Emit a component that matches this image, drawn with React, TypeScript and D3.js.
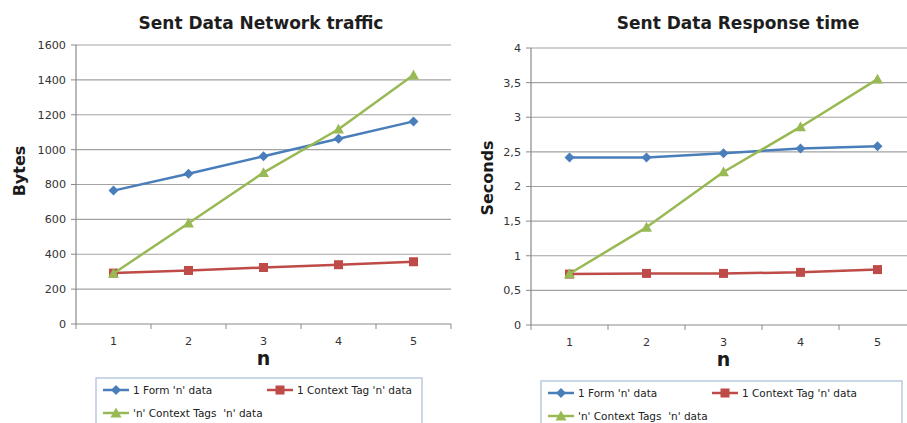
import React from "react";
import * as d3 from "d3";

const categories = ["1", "2", "3", "4", "5"];
const seriesNames = ["1 Form 'n' data", "1 Context Tag 'n' data", "'n' Context Tags  'n' data"];
const seriesColors = ["#4a7ebb", "#be4b48", "#98b954"];

const trafficForm = [765, 862, 962, 1062, 1162];
const trafficTag = [292, 307, 324, 340, 357];
const trafficTags = [290, 578, 868, 1117, 1428];
const trafficTicks = [0, 200, 400, 600, 800, 1000, 1200, 1400, 1600];

const timeForm = [2.42, 2.42, 2.48, 2.55, 2.58];
const timeTag = [0.735, 0.745, 0.745, 0.76, 0.8];
const timeTags = [0.74, 1.41, 2.21, 2.86, 3.55];
const timeTicks = [0, 0.5, 1, 1.5, 2, 2.5, 3, 3.5, 4];

const FONT = "'DejaVu Sans', Verdana, sans-serif";

type ChartProps = {
  title: string;
  yLabel: string;
  series: number[][];
  ticks: number[];
  yMax: number;
  left: number;
  band: number;
  top: number;
  bottom: number;
  titleX: number;
  yLabelX: number;
  yLabelY: number;
  legendX: number;
  legendY: number;
  legendW: number;
  fmt: (v: number) => string;
};

function Marker({ kind, x, y, color }: { kind: number; x: number; y: number; color: string }) {
  if (kind === 0) {
    const s = 5;
    return <path d={`M${x},${y - s}L${x + s},${y}L${x},${y + s}L${x - s},${y}Z`} fill={color} />;
  }
  if (kind === 1) {
    const s = 4.5;
    return <rect x={x - s} y={y - s} width={2 * s} height={2 * s} fill={color} />;
  }
  const s = 5.5;
  return <path d={`M${x},${y - s}L${x + s},${y + s * 0.8}L${x - s},${y + s * 0.8}Z`} fill={color} />;
}

function Chart(p: ChartProps) {
  const x = d3
    .scaleBand<string>()
    .domain(categories)
    .range([p.left, p.left + p.band * categories.length])
    .paddingInner(0)
    .paddingOuter(0);
  const y = d3.scaleLinear().domain([0, p.yMax]).range([p.bottom, p.top]);
  const cx = (c: string) => (x(c) as number) + x.bandwidth() / 2;
  const line = d3
    .line<number>()
    .x((_, i) => cx(categories[i]))
    .y((d) => y(d));
  const right = p.left + p.band * categories.length;
  const boundaries = categories.map((c) => x(c) as number).concat([right]);
  const legendItems = [
    { i: 0, lx: p.legendX + 7, ly: p.legendY + 12 },
    { i: 1, lx: p.legendX + 171, ly: p.legendY + 12 },
    { i: 2, lx: p.legendX + 7, ly: p.legendY + 35 },
  ];
  return (
    <g>
      <text x={p.titleX} y={29} textAnchor="middle" fontFamily={FONT} fontWeight="bold" fontSize={17} fill="#1e1e1e">
        {p.title}
      </text>
      {p.ticks.map((t) => (
        <g key={t}>
          {t > 0 && <line x1={p.left} x2={right} y1={y(t)} y2={y(t)} stroke="#a3a3a3" strokeWidth={1.2} />}
          <line x1={p.left - 5} x2={p.left} y1={y(t)} y2={y(t)} stroke="#8a8a8a" />
          <text x={p.left - 10} y={y(t)} dy="0.35em" textAnchor="end" fontFamily={FONT} fontSize={11.2} fill="#333">
            {p.fmt(t)}
          </text>
        </g>
      ))}
      <line x1={p.left} x2={p.left} y1={p.top} y2={p.bottom} stroke="#8a8a8a" strokeWidth={1.2} />
      <line x1={p.left} x2={right} y1={p.bottom} y2={p.bottom} stroke="#8a8a8a" strokeWidth={1.2} />
      {boundaries.map((b, i) => (
        <line key={i} x1={b} x2={b} y1={p.bottom} y2={p.bottom + 5} stroke="#8a8a8a" />
      ))}
      {categories.map((c) => (
        <text key={c} x={cx(c)} y={p.bottom + 17} dy="0.35em" textAnchor="middle" fontFamily={FONT} fontSize={11.2} fill="#333">
          {c}
        </text>
      ))}
      <text x={cx("3")} y={p.bottom + 41} textAnchor="middle" fontFamily={FONT} fontWeight="bold" fontSize={19} fill="#1a1a1a">
        n
      </text>
      <text
        transform={`translate(${p.yLabelX},${p.yLabelY}) rotate(-90)`}
        textAnchor="middle"
        dy="0.35em"
        fontFamily={FONT}
        fontWeight="bold"
        fontSize={16}
        fill="#1a1a1a"
      >
        {p.yLabel}
      </text>
      {p.series.map((s, si) => (
        <g key={si}>
          <path d={line(s) || ""} fill="none" stroke={seriesColors[si]} strokeWidth={2.5} strokeLinejoin="round" />
          {s.map((v, i) => (
            <Marker key={i} kind={si} x={cx(categories[i])} y={y(v)} color={seriesColors[si]} />
          ))}
        </g>
      ))}
      <rect x={p.legendX} y={p.legendY} width={p.legendW} height={60} fill="white" stroke="#a7bcd8" strokeWidth={1.2} />
      {legendItems.map(({ i, lx, ly }) => (
        <g key={i}>
          <line x1={lx} x2={lx + 26} y1={ly} y2={ly} stroke={seriesColors[i]} strokeWidth={2.5} />
          <Marker kind={i} x={lx + 13} y={ly} color={seriesColors[i]} />
          <text
            x={lx + 30}
            y={ly}
            dy="0.35em"
            fontFamily={FONT}
            fontSize={10.5}
            fill="#222"
            style={{ whiteSpace: "pre" }}
          >
            {seriesNames[i]}
          </text>
        </g>
      ))}
    </g>
  );
}

export default function App() {
  return (
    <svg
      width={907}
      height={423}
      style={{ position: "absolute", left: 0, top: 0, background: "white" }}
    >
      <rect width={907} height={423} fill="white" />
      <Chart
        title="Sent Data Network traffic"
        yLabel="Bytes"
        series={[trafficForm, trafficTag, trafficTags]}
        ticks={trafficTicks}
        yMax={1600}
        left={76}
        band={75}
        top={45}
        bottom={324}
        titleX={261}
        yLabelX={19}
        yLabelY={171}
        legendX={96}
        legendY={378}
        legendW={326}
        fmt={(v) => String(v)}
      />
      <Chart
        title="Sent Data Response time"
        yLabel="Seconds"
        series={[timeForm, timeTag, timeTags]}
        ticks={timeTicks}
        yMax={4}
        left={531}
        band={77}
        top={48}
        bottom={325}
        titleX={738}
        yLabelX={487}
        yLabelY={178}
        legendX={541}
        legendY={381}
        legendW={361}
        fmt={(v) => String(v).replace(".", ",")}
      />
    </svg>
  );
}
